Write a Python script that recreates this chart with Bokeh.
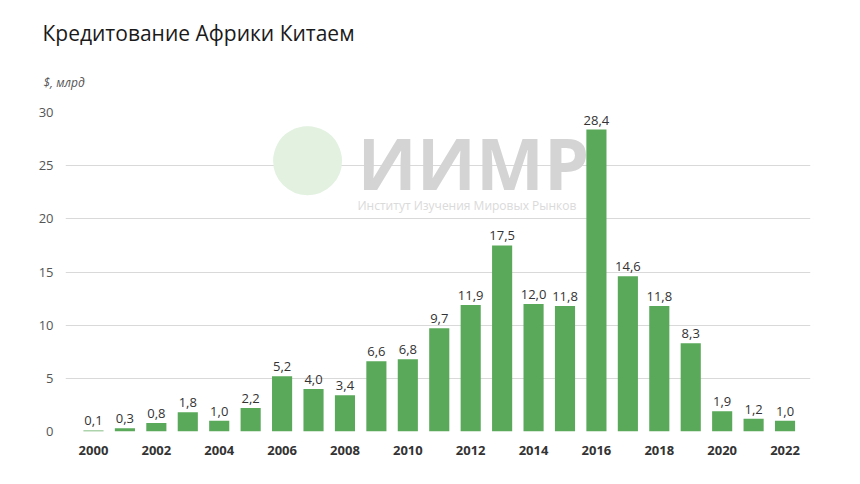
from bokeh.plotting import figure
from bokeh.models import ColumnDataSource, Label, FixedTicker, Range1d, Title
from bokeh.core.properties import value
from bokeh.embed import file_html
from bokeh.resources import INLINE

years = list(range(2000, 2023))
values = [0.1, 0.3, 0.8, 1.8, 1.0, 2.2, 5.2, 4.0, 3.4, 6.6, 6.8, 9.7, 11.9, 17.5, 12.0, 11.8, 28.4, 14.6, 11.8, 8.3, 1.9, 1.2, 1.0]
labels = [f"{v:.1f}".replace(".", ",") for v in values]
x_ticks = list(range(2000, 2023, 2))
y_ticks = [0, 5, 10, 15, 20, 25, 30]

FONT = "Open Sans"
src = ColumnDataSource(dict(x=years, top=values, label=labels))

p = figure(width=860, height=484, output_backend="svg", toolbar_location=None,
           x_range=Range1d(1999.11, 2022.81), y_range=Range1d(0, 30),
           min_border_left=65, min_border_right=50, min_border_top=112, min_border_bottom=53)
p.outline_line_color = None
p.background_fill_color = "white"
p.border_fill_color = "white"

p.title = Title(text="Кредитование Африки Китаем", align="left", offset=-23, standoff=7,
                text_font=FONT, text_font_size="21px", text_font_style="normal", text_color="#1a1a1a")
p.add_layout(Title(text="$, млрд", align="left", offset=-22, standoff=43, text_font=FONT, text_font_size="12px",
                   text_font_style="italic", text_color="#555555"), "above")

p.add_layout(Label(x=242, y=288, x_units="screen", y_units="screen", text="●", text_align="center",
                   text_baseline="middle", text_font=FONT, text_font_size="160px", text_color="#e2f1e0"))
p.add_layout(Label(x=292, y=221, x_units="screen", y_units="screen", text="ИИМР",
                   text_font=FONT, text_font_size="72px", text_font_style="bold", text_color="#d4d4d4"))
p.add_layout(Label(x=292, y=218, x_units="screen", y_units="screen", text="Институт Изучения Мировых Рынков",
                   text_font=FONT, text_font_size="12px", text_color="#dadada"))

p.vbar(x="x", top="top", width=0.64, source=src, fill_color="#5aa85a", line_color=None)
p.text(x="x", y="top", text="label", source=src, text_align="center", text_baseline="bottom",
       y_offset=-5, text_font_size="13px", text_color="#333333", text_font=value(FONT))

p.xgrid.grid_line_color = None
p.ygrid.grid_line_color = "#d9d9d9"
p.ygrid.grid_line_width = 1
p.yaxis.ticker = FixedTicker(ticks=y_ticks)
p.xaxis.ticker = FixedTicker(ticks=x_ticks)
for ax in (p.xaxis[0], p.yaxis[0]):
    ax.axis_line_color = None
    ax.major_tick_line_color = None
    ax.minor_tick_line_color = None
    ax.major_label_text_font = FONT
p.yaxis.major_label_text_font_size = "13px"
p.yaxis.major_label_text_color = "#555555"
p.yaxis.major_label_standoff = 6
p.xaxis.major_label_text_font_size = "13px"
p.xaxis.major_label_text_color = "#333333"
p.xaxis.major_label_text_font_style = "bold"
p.xaxis.major_label_standoff = 8

open("out.html", "w").write(file_html(p, INLINE))
